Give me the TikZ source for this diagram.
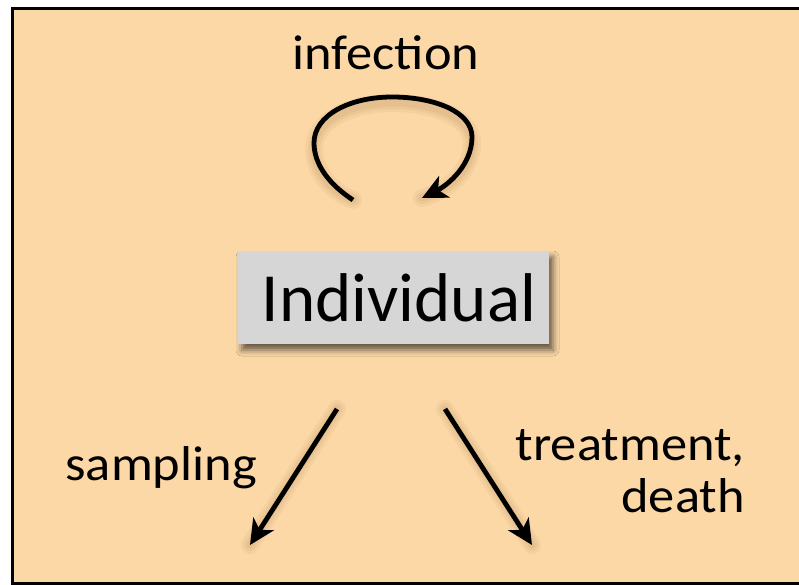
\documentclass[tikz,border=0pt]{standalone}
\usepackage{fontspec}
\setmainfont{Carlito}
\newfontfamily\labelfont{Carlito}[FakeStretch=1.07]
\usetikzlibrary{arrows.meta,shadows.blur}
\definecolor{peach}{RGB}{252,216,167}
\definecolor{boxgray}{RGB}{214,214,214}
\definecolor{shade}{RGB}{120,80,30}
\begin{document}
\begin{tikzpicture}[x=1pt,y=-1pt,
  haze/.style={draw=shade,opacity=0.06,line width=#1,line cap=round},
  flow/.style={line width=4.8pt,
    -{Stealth[length=25pt,width=24pt,inset=7pt]}},
  lbl/.style={inner sep=0pt,font=\labelfont\fontsize{49}{52}\selectfont},
  entity/.style={fill=boxgray,minimum width=311pt,minimum height=93pt,inner sep=0pt,
    blur shadow={shadow xshift=4pt,shadow yshift=-6pt,shadow opacity=60,shadow blur radius=6pt}}]
\useasboundingbox (0,0) rectangle (799,585);
\fill[white] (0,0) rectangle (799,585);
\draw[fill=peach,line width=2.5pt] (12.5,8.5) rectangle (815,583.5);

\node[entity] (ind) at (393.5,297.5) {\hspace*{11pt}\fontsize{69}{69}\selectfont Individual};

\node[lbl,anchor=base] (inf) at (386,70) {infection};
\node[lbl,anchor=base east] (samp) at (257,480) {sampling};
\node[lbl,anchor=base east,align=right] (treat) at (745,512) {treatment,\\death};

\coordinate (loopA) at (353,200);
\coordinate (loopB) at (422,198);
\coordinate (sampA) at (337,409);
\coordinate (sampB) at (250,545);
\coordinate (treatA) at (445,409);
\coordinate (treatB) at (532,545);

% soft shadows beneath the arrows
\foreach \w in {18pt,12pt,7pt}{
  \begin{scope}[yshift=-6pt]
    \draw[haze=\w] (loopA) .. controls (330,185) and (314,165) .. (314,143)
      .. controls (314,115) and (350,97) .. (392,97)
      .. controls (435,97) and (472,112) .. (472,137)
      .. controls (472,165) and (448,185) .. (loopB);
    \draw[haze=\w] (sampA) -- (sampB);
    \draw[haze=\w] (treatA) -- (treatB);
  \end{scope}
}

\draw[flow] (loopA) .. controls (330,185) and (314,165) .. (314,143)
  .. controls (314,115) and (350,97) .. (392,97)
  .. controls (435,97) and (472,112) .. (472,137)
  .. controls (472,165) and (448,185) .. (loopB);
\draw[flow] (sampA) -- (sampB);
\draw[flow] (treatA) -- (treatB);
\end{tikzpicture}
\end{document}
